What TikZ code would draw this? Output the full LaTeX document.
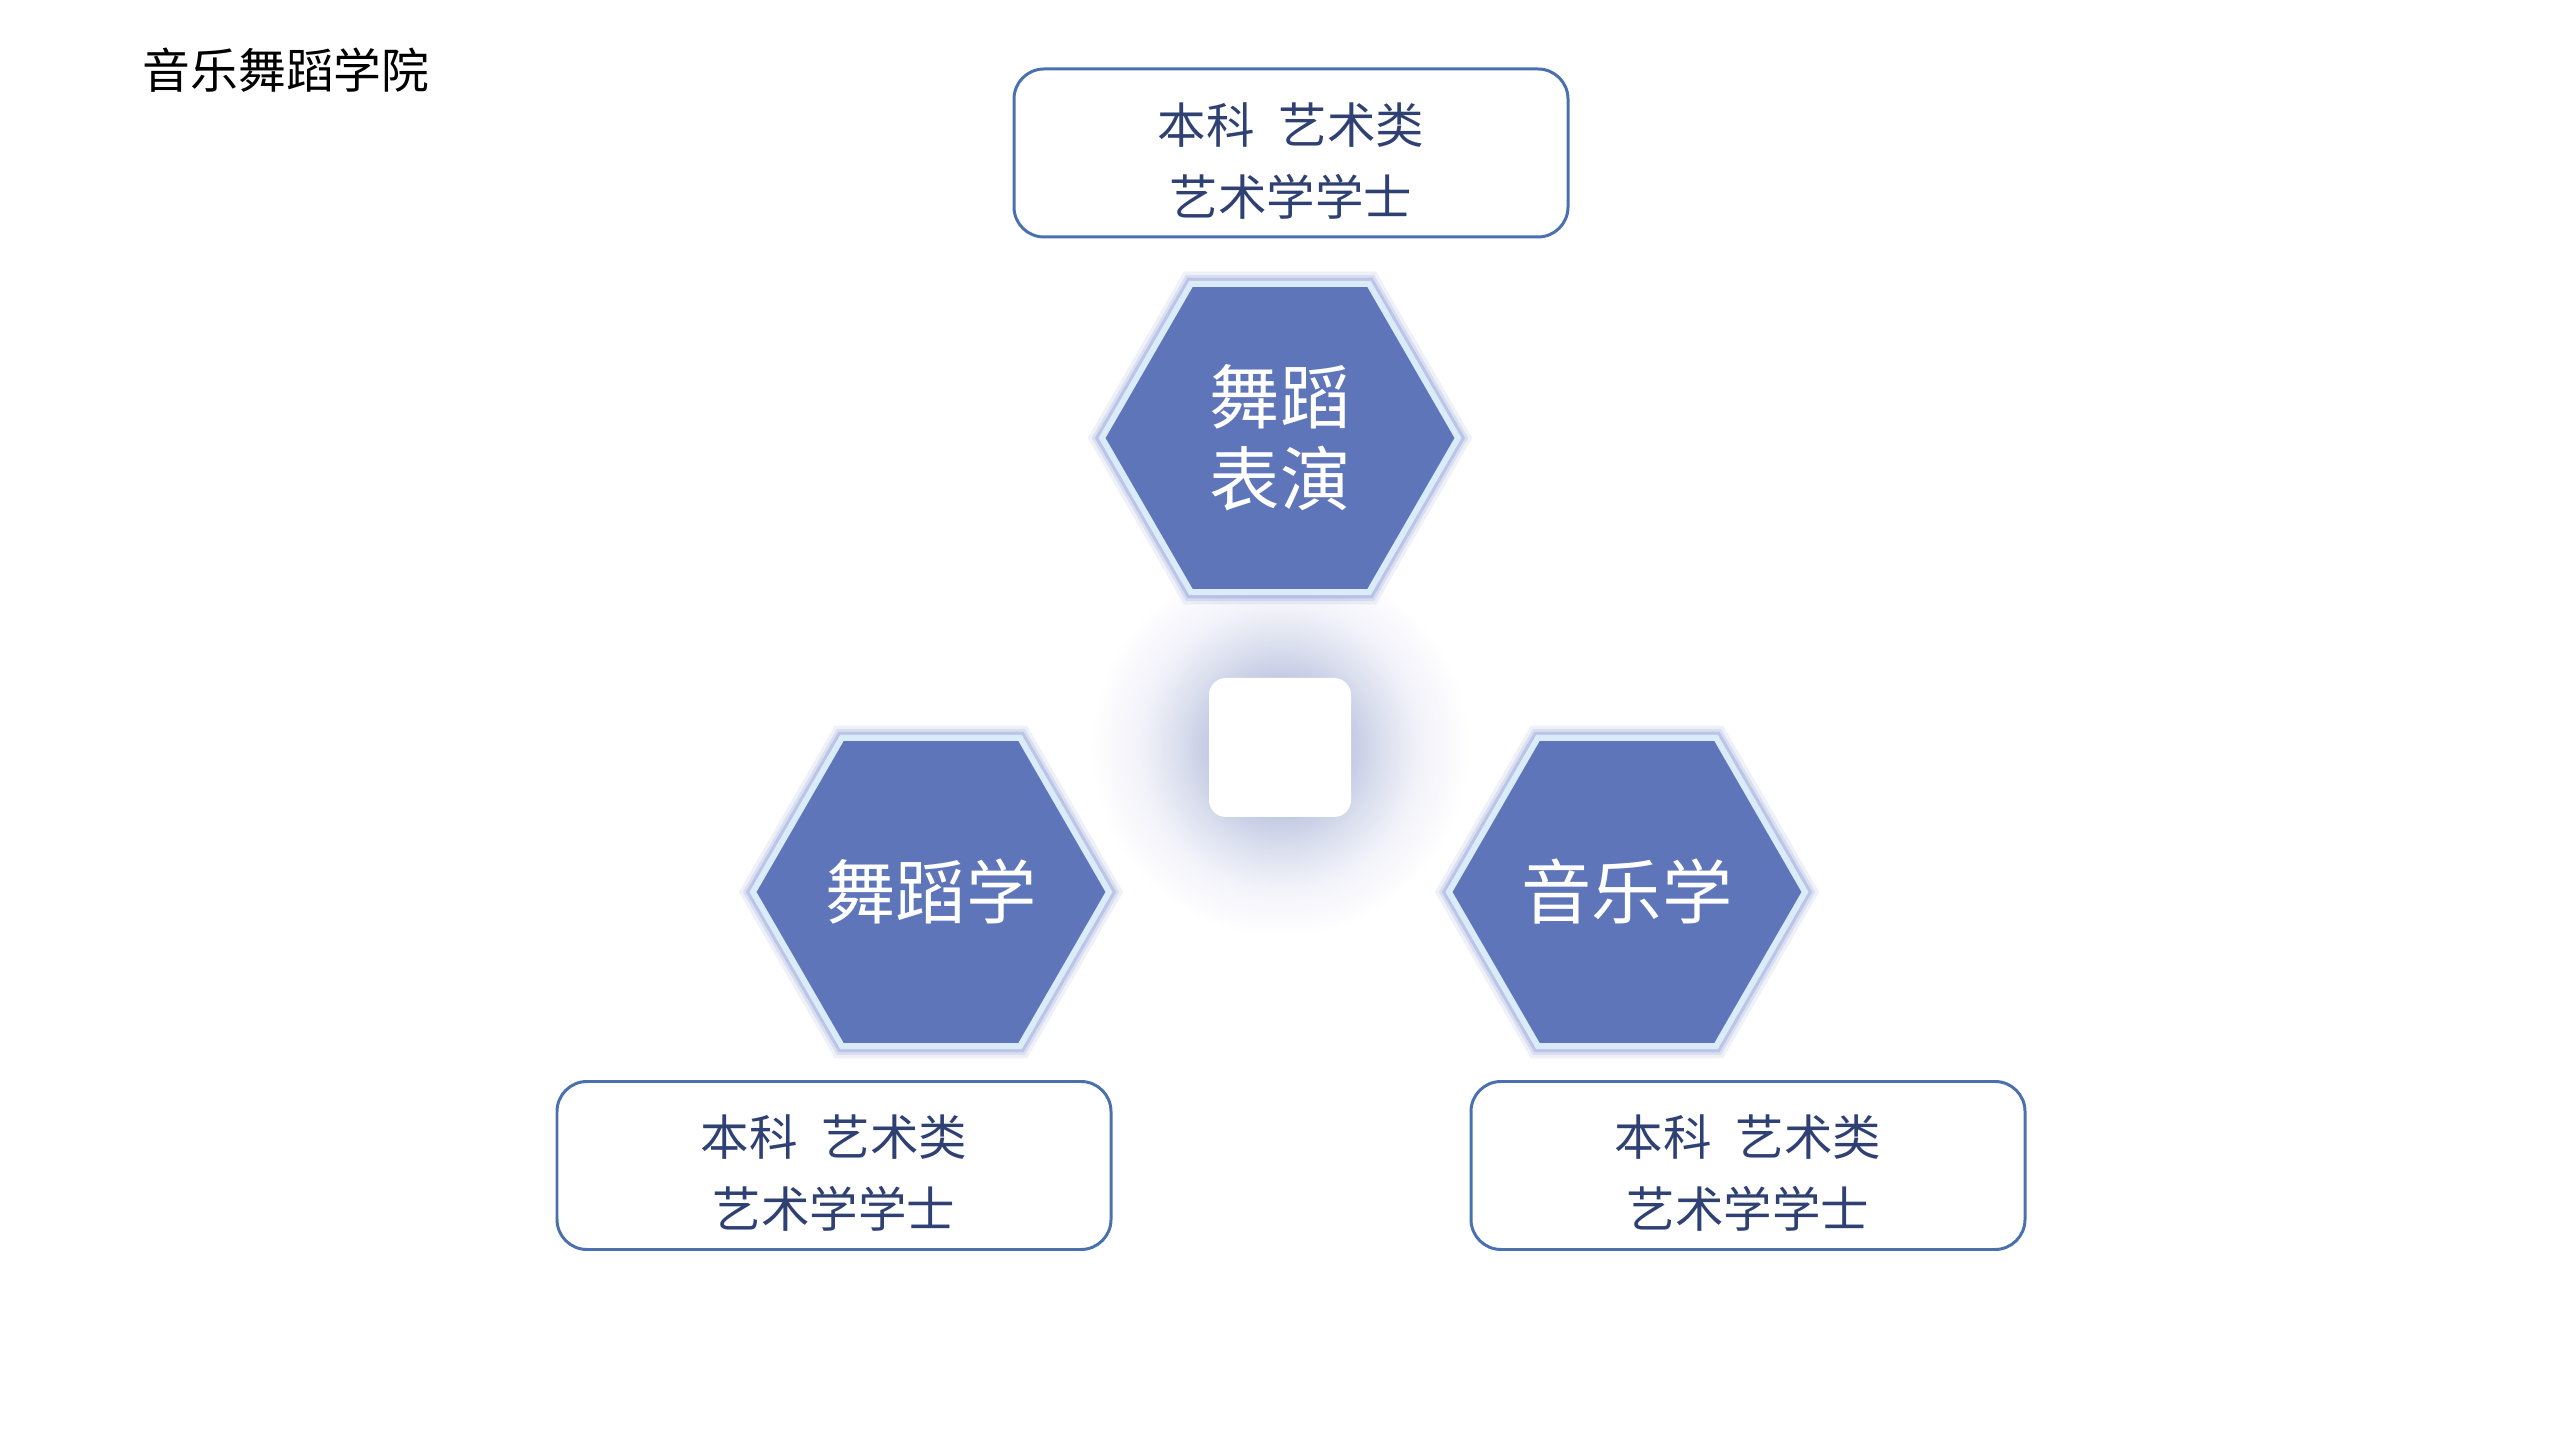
\documentclass[tikz,border=0pt]{standalone}
\usepackage{fontspec}
\setmainfont{Noto Sans CJK SC}
\usetikzlibrary{shapes.geometric,backgrounds}
\definecolor{hexfill}{RGB}{94,117,185}
\definecolor{hexrim}{RGB}{218,236,250}
\definecolor{hexglow}{RGB}{120,138,205}
\definecolor{boxline}{RGB}{74,112,173}
\definecolor{boxtext}{RGB}{47,64,115}
\pgfdeclareradialshading{coreglow}{\pgfpoint{0bp}{0bp}}{rgb(0bp)=(0.74,0.77,0.88); rgb(9bp)=(0.76,0.79,0.89); rgb(13bp)=(0.85,0.87,0.93); rgb(18.5bp)=(0.95,0.95,0.98); rgb(25bp)=(1,1,1); rgb(50bp)=(1,1,1)}
\tikzset{
hexa/.style={regular polygon, regular polygon sides=6, minimum size=3.56cm, inner sep=0pt,
  fill=hexfill, draw=hexrim, line width=1.7pt, text=white, align=center,
  font=\fontsize{20}{23.3}\selectfont,
  preaction={draw=hexglow, line width=7pt, draw opacity=0.12},
  preaction={draw=hexglow, line width=5pt, draw opacity=0.18},
  preaction={draw=hexglow, line width=3.5pt, draw opacity=0.3}},
infobox/.style={rectangle, rounded corners=0.3cm, minimum width=5.54cm, minimum height=1.68cm,
  draw=boxline, line width=0.85pt, text=boxtext, align=center,
  font=\fontsize{13.8}{20.5}\selectfont},
corebox/.style={rectangle, rounded corners=0.17cm, minimum width=1.42cm, minimum height=1.39cm, fill=white}
}

\begin{document}
\begin{tikzpicture}
\useasboundingbox (0,0) rectangle (25.6,14.4);
\node (title) [anchor=west, inner sep=0pt, font=\fontsize{13.6}{16}\selectfont] at (1.42,13.70) {音乐舞蹈学院};

\node (core) [corebox] at (12.80,6.925) {};
\begin{scope}[on background layer]
\shade[shading=coreglow] (core.center) circle (1.9);
\end{scope}

\node (dance) [hexa] at (12.80,10.02) {舞蹈\\表演};
\node (dancestudy) [hexa] at (9.31,5.48) {舞蹈学};
\node (music) [hexa] at (16.27,5.48) {音乐学};

\node (dancebox) [infobox] at (12.91,12.87) {\rule{0pt}{16pt}本科\hspace{0.5em}艺术类\\艺术学学士};
\node (dancestudybox) [infobox] at (8.34,2.745) {\rule{0pt}{16pt}本科\hspace{0.5em}艺术类\\艺术学学士};
\node (musicbox) [infobox] at (17.48,2.745) {\rule{0pt}{16pt}本科\hspace{0.5em}艺术类\\艺术学学士};
\end{tikzpicture}
\end{document}
